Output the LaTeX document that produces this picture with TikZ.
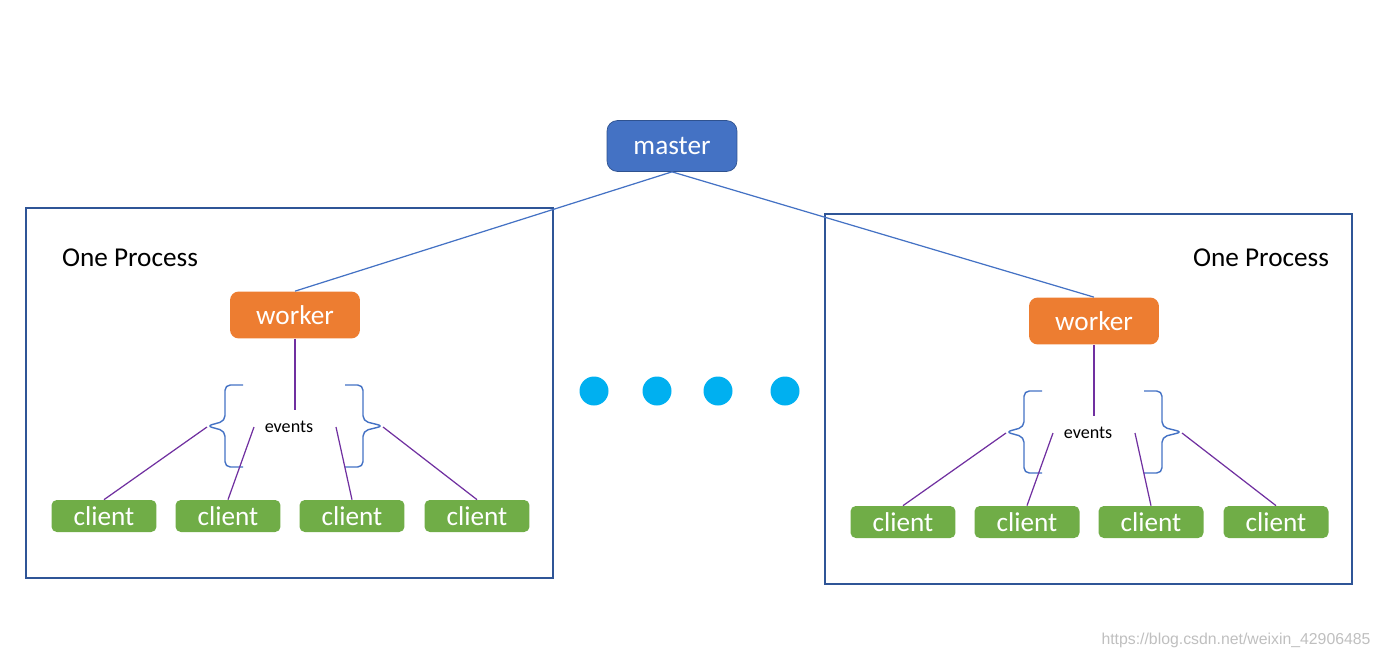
\documentclass[tikz,border=0pt]{standalone}
\usepackage{fontspec}
\setmainfont{Carlito}
\newfontfamily\marksans{Liberation Sans}
\usetikzlibrary{positioning}

\definecolor{masterblue}{HTML}{4472C4}
\definecolor{masteredge}{HTML}{2F528F}
\definecolor{workerorange}{HTML}{ED7D31}
\definecolor{clientgreen}{HTML}{70AD47}
\definecolor{dotcyan}{HTML}{00B0F0}
\definecolor{boxnavy}{HTML}{2F5597}
\definecolor{eventpurple}{HTML}{7030A0}

\tikzset{
    bigtext/.style={font=\fontsize{15.5}{18}\selectfont},
    master/.style={bigtext, fill=masterblue, draw=masteredge, thin, text=white,
        rounded corners=6, minimum width=2.6cm, minimum height=1.02cm},
    worker/.style={bigtext, fill=workerorange, text=white,
        rounded corners=5, minimum width=2.6cm, minimum height=0.94cm},
    client/.style={bigtext, fill=clientgreen, text=white,
        rounded corners=3, minimum width=2.1cm, minimum height=0.64cm},
    processbox/.style={draw=boxnavy, line width=0.8pt},
    masterline/.style={draw=masterblue, line width=0.7pt},
    eventline/.style={draw=eventpurple, line width=0.7pt},
    bracket/.style={draw=masterblue, line width=0.8pt, rounded corners=3},
}

\begin{document}
\begin{tikzpicture}[x=0.02cm, y=-0.02cm]

    \useasboundingbox (0,0) rectangle (1380,659);

    \node[master] (master) at (672,146) {master};

    % one process per box, the second one shifted to the right
    \foreach \p/\dx/\dy in {a/0/0, b/799/6} {
        \begin{scope}[shift={(\dx,\dy)}]
            \draw[processbox] (26,208) rectangle (553,578);
            \node[worker] (worker\p) at (295,315) {worker};
            \node[font=\fontsize{10.3}{12}\selectfont] (events\p) at (289,427) {events};

            \coordinate (wend\p) at (295,410);
            \draw[eventline] (worker\p.south) -- (wend\p);

            \draw[bracket] (243,385) -- (225,385) -- (225,421) -- (207,426) -- (225,431) -- (225,467) -- (243,467);
            \draw[bracket] (345,385) -- (363,385) -- (363,421) -- (383,426) -- (363,431) -- (363,467) -- (345,467);

            \foreach \i/\x/\s in {1/104/207, 2/228/254, 3/352/336, 4/477/383} {
                \node[client] (client\p\i) at (\x,516) {client};
                \coordinate (cend\p\i) at (\s,427);
                \draw[eventline] (cend\p\i) -- (client\p\i.north);
            }
        \end{scope}
    }

    \node[bigtext] (procleft) at (130,258) {One Process};
    \node[bigtext] (procright) at (1261,258) {One Process};

    \draw[masterline] (master.south) -- (workera.north);
    \draw[masterline] (master.south) -- (workerb.north);

    \foreach \x in {594,657,718,785} \fill[dotcyan] (\x,391) circle (14.5);

    \node[text=black!25, font=\marksans\fontsize{9}{10}\selectfont] (mark) at (1236,640) {https://blog.csdn.net/weixin\_42906485};

\end{tikzpicture}
\end{document}
